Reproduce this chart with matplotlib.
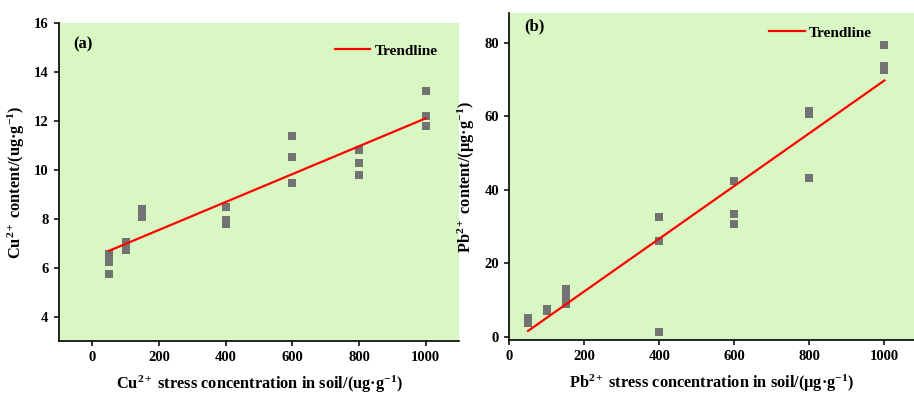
import matplotlib
matplotlib.use("Agg")
import matplotlib.pyplot as plt
import numpy as np

plt.rcParams['font.family'] = ['Liberation Serif', 'DejaVu Serif']
plt.rcParams['font.weight'] = 'bold'
plt.rcParams['mathtext.fontset'] = 'custom'
plt.rcParams['mathtext.rm'] = 'Liberation Serif:bold'
plt.rcParams['mathtext.bf'] = 'Liberation Serif:bold'
plt.rcParams['mathtext.it'] = 'Liberation Serif:bold:italic'

# stress concentrations, three replicates each
conc = [50, 100, 150, 400, 600, 800, 1000]

cu_content = [
    [6.57, 6.25, 5.72],
    [7.05, 6.85, 6.70],
    [8.40, 8.20, 8.05],
    [8.48, 7.95, 7.80],
    [11.40, 10.54, 9.44],
    [10.81, 10.29, 9.80],
    [13.20, 12.18, 11.77],
]

pb_content = [
    [5.0, 4.2, 3.6],
    [7.6, 7.2, 6.9],
    [13.0, 10.7, 9.0],
    [32.6, 26.1, 1.3],
    [42.4, 33.5, 30.7],
    [61.5, 60.6, 43.2],
    [79.4, 73.7, 72.6],
]

bg = '#d9f7c3'
marker_col = '#737373'
W, H = 914, 394

fig = plt.figure(figsize=(W / 100, H / 100), dpi=100)


def px_axes(left, top, right, bottom):
    return fig.add_axes([left / W, 1 - bottom / H, (right - left) / W, (bottom - top) / H])


def draw_panel(ax, values, xlim, ylim, yticks, ylabel, xlabel, tag, leg_xy, tag_xy, xpad):
    ax.set_facecolor(bg)
    xs = np.repeat(conc, 3)
    ys = np.array(values).ravel()
    ax.plot(xs, ys, 's', color=marker_col, markersize=5.2, markeredgewidth=0, zorder=2)

    k, b = np.polyfit(xs, ys, 1)
    xl = np.array([conc[0], conc[-1]])
    ax.plot(xl, k * xl + b, '-', color='#ff0000', linewidth=1.6, label='Trendline', zorder=3)

    ax.set_xlim(*xlim)
    ax.set_ylim(*ylim)
    ax.set_xticks([0, 200, 400, 600, 800, 1000])
    ax.set_yticks(yticks)
    for s in ['top', 'right']:
        ax.spines[s].set_visible(False)
    for s in ['left', 'bottom']:
        ax.spines[s].set_linewidth(1.2)
    ax.tick_params(direction='out', length=3.5, width=1.1, labelsize=10.5, pad=4)
    ax.set_ylabel(ylabel, fontsize=11.8, fontweight='bold', labelpad=5)
    ax.set_xlabel(xlabel, fontsize=11.8, fontweight='bold', labelpad=xpad)
    ax.text(tag_xy[0], tag_xy[1], tag, transform=ax.transAxes, fontsize=12,
            fontweight='bold', va='center', ha='left')
    ax.legend(loc='center left', bbox_to_anchor=leg_xy, frameon=False, borderpad=0,
              handlelength=2.3, handletextpad=0.3, prop={'size': 11, 'weight': 'bold'})


ax1 = px_axes(59, 23, 459, 341)
draw_panel(ax1, cu_content, (-100, 1100), (3, 16), [4, 6, 8, 10, 12, 14, 16],
           'Cu$^{2+}$ content/(ug·g$^{-1}$)',
           'Cu$^{2+}$ stress concentration in soil/(ug·g$^{-1}$)',
           '(a)', (0.67, 0.912), (0.035, 0.934), 6.5)

ax2 = px_axes(509.3, 13.3, 914, 340)
draw_panel(ax2, pb_content, (0, 1079), (-0.9, 88), [0, 20, 40, 60, 80],
           'Pb$^{2+}$ content/(μg·g$^{-1}$)',
           'Pb$^{2+}$ stress concentration in soil/(μg·g$^{-1}$)',
           '(b)', (0.624, 0.94), (0.036, 0.959), 6.5)

fig.savefig('out.png', dpi=100)
